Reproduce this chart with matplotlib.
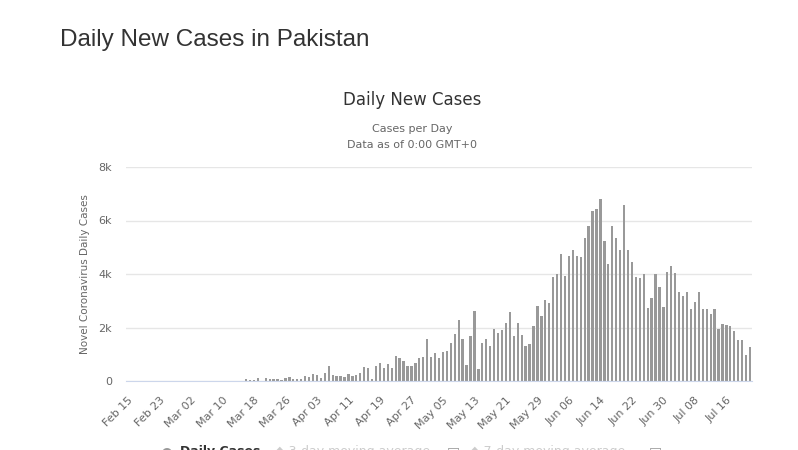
import numpy as np
import pandas as pd
import matplotlib
matplotlib.use("Agg")
import matplotlib.pyplot as plt

# data: daily new cases, Pakistan, Feb 15 .. Jul 22
dates = pd.date_range("2020-02-15", periods=159, freq="D")
early = [0] * 30
mar_apr = [75, 40, 40, 113, 15, 113, 75, 75, 75, 40, 113, 150, 75, 75, 75, 190,
           150, 265, 225, 113, 300, 570, 225, 190,
           190, 150, 265, 190, 225, 300, 530, 490, 75, 570, 680, 490, 640, 490,
           950, 870, 755, 570, 570, 680, 870, 905, 1585, 910]
may = [1030, 845, 1095, 1130, 1410, 1775, 2275, 1585, 580, 1700, 2615, 455,
       1410, 1560, 1320, 1960, 1810, 1900, 2150, 2580, 1700, 2150, 1735, 1320]
jun = [1390, 2040, 2790, 2415, 3010, 2915, 3890, 4015, 4765, 3940, 4690, 4915,
       4690, 4620, 5330, 5785, 6350, 6420, 6795, 5220,
       4390, 5785, 5330, 4915, 6570, 4915, 4430, 3905, 3860, 4015]
jul = [2745, 3120, 4015, 3530, 2780, 4085, 4315, 4050, 3345, 3170, 3320, 2675,
       2943, 3320, 2710, 2710, 2495, 2710, 1960, 2145, 2110, 2070, 1885, 1545,
       1545, 980, 1275]
cases = early + mar_apr + may + jun + jul
assert len(cases) == len(dates)

tick_idx = list(range(0, len(dates), 8))
tick_labels = [dates[i].strftime("%b %d") for i in tick_idx]
y_ticks = [0, 2000, 4000, 6000, 8000]
y_labels = ["0", "2k", "4k", "6k", "8k"]

W, H = 798, 450
fig = plt.figure(figsize=(W / 100, H / 100), dpi=100)
fig.patch.set_facecolor("white")

left, right, bottom, top = 126, 752, 381, 167
ax = fig.add_axes([left / W, 1 - bottom / H, (right - left) / W, (bottom - top) / H])

x = np.arange(len(cases))
ax.bar(x, cases, width=0.58, color="#999999", linewidth=0, zorder=3)

ax.set_xlim(-0.5, len(cases) - 0.5)
ax.set_ylim(0, 8000)
ax.set_yticks(y_ticks)
ax.set_yticklabels(y_labels)
ax.set_xticks(tick_idx)
ax.set_xticklabels(tick_labels, rotation=45, ha="right", rotation_mode="anchor")

ax.grid(axis="y", color="#e6e6e6", linewidth=1, zorder=0)
for s in ["top", "right", "left"]:
    ax.spines[s].set_visible(False)
ax.spines["bottom"].set_color("#ccd6eb")
ax.spines["bottom"].set_zorder(4)
ax.tick_params(axis="y", length=0, pad=10, labelsize=8, labelcolor="#666666")
ax.tick_params(axis="x", length=0, pad=10, labelsize=8, labelcolor="#666666")
ax.set_ylabel("Novel Coronavirus Daily Cases", fontsize=7.5, color="#666666", labelpad=6)

fig.text(60 / W, 1 - 40 / H, "Daily New Cases in Pakistan", fontsize=17.5,
         family="Liberation Sans", color="#333333", va="center", ha="left")
fig.text(412 / W, 1 - 100 / H, "Daily New Cases", fontsize=12, color="#333333",
         va="center", ha="center")
fig.text(412 / W, 1 - 129 / H, "Cases per Day", fontsize=8, color="#666666",
         va="center", ha="center")
fig.text(412 / W, 1 - 145 / H, "Data as of 0:00 GMT+0", fontsize=8, color="#666666",
         va="center", ha="center")

# legend row, cut off by the bottom edge as in the reference
ly = 1 - 445 / H
fig.text(166 / W, ly, "\u25cf", fontsize=10, color="#999999", va="top", ha="center")
fig.text(180 / W, ly, "Daily Cases", fontsize=9, weight="bold", color="#333333", va="top")
fig.text(275 / W, ly, "\u25c6 3-day moving average", fontsize=9, color="#cccccc", va="top")
fig.text(453 / W, ly, "\u25a1", fontsize=10, color="#999999", va="top", ha="center")
fig.text(470 / W, ly, "\u25c6 7-day moving average", fontsize=9, color="#cccccc", va="top")
fig.text(655 / W, ly, "\u25a1", fontsize=10, color="#999999", va="top", ha="center")

plt.savefig("out.png", dpi=100)
